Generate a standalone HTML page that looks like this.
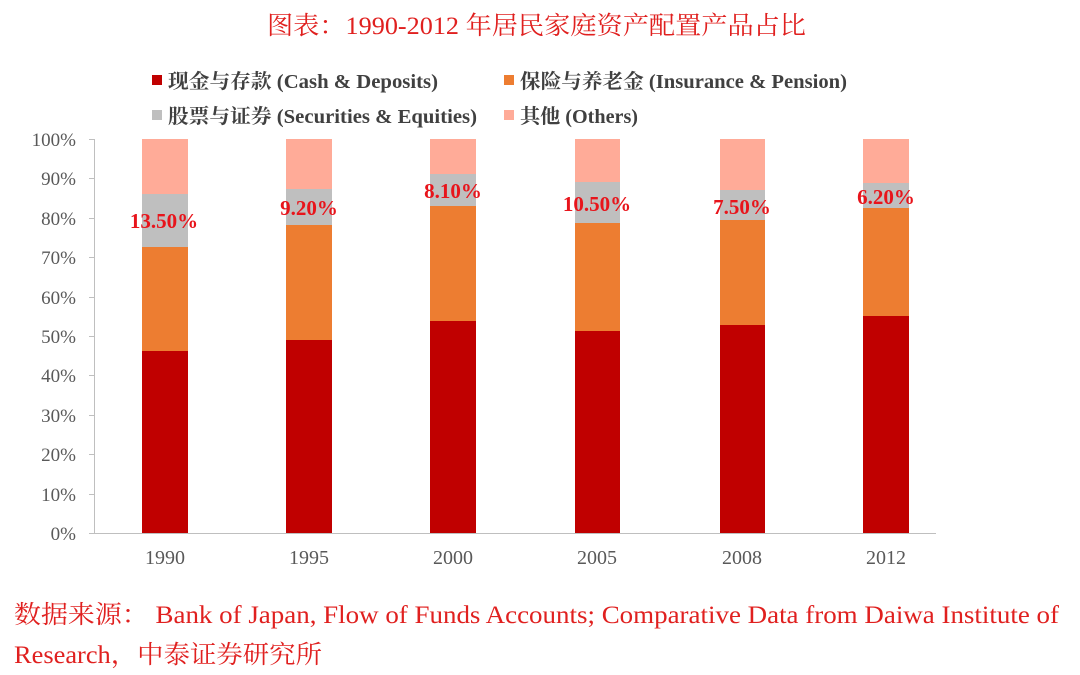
<!DOCTYPE html>
<html><head><meta charset="utf-8"><style>
html,body{margin:0;padding:0;background:#fff;}
svg{display:block;}
</style></head><body>
<svg width="1080" height="675" xmlns="http://www.w3.org/2000/svg" font-family="Liberation Serif, Noto Serif CJK SC, serif">
<text x="267" y="34" font-size="25" fill="#e0201f" textLength="539" lengthAdjust="spacingAndGlyphs">图表：1990-2012 年居民家庭资产配置产品占比</text>
<g font-size="20" font-weight="bold" fill="#404040">
<rect x="152" y="75" width="10" height="10" fill="#c00000"/><text x="168" y="88" textLength="270" lengthAdjust="spacingAndGlyphs">现金与存款 (Cash &amp; Deposits)</text>
<rect x="504" y="75" width="10" height="10" fill="#ed7d31"/><text x="520" y="88" textLength="327" lengthAdjust="spacingAndGlyphs">保险与养老金 (Insurance &amp; Pension)</text>
<rect x="152" y="110" width="10" height="10" fill="#bfbfbf"/><text x="168" y="123" textLength="309" lengthAdjust="spacingAndGlyphs">股票与证券 (Securities &amp; Equities)</text>
<rect x="504" y="110" width="10" height="10" fill="#ffab98"/><text x="520" y="123" textLength="118" lengthAdjust="spacingAndGlyphs">其他 (Others)</text>
</g>
<g stroke="#bfbfbf" stroke-width="1">
<line x1="94.5" y1="139" x2="94.5" y2="533"/>
<line x1="94" y1="533.5" x2="936" y2="533.5"/>
<line x1="89" y1="139.5" x2="94" y2="139.5"/><line x1="89" y1="178.5" x2="94" y2="178.5"/><line x1="89" y1="218.5" x2="94" y2="218.5"/><line x1="89" y1="257.5" x2="94" y2="257.5"/><line x1="89" y1="297.5" x2="94" y2="297.5"/><line x1="89" y1="336.5" x2="94" y2="336.5"/><line x1="89" y1="375.5" x2="94" y2="375.5"/><line x1="89" y1="415.5" x2="94" y2="415.5"/><line x1="89" y1="454.5" x2="94" y2="454.5"/><line x1="89" y1="494.5" x2="94" y2="494.5"/><line x1="89" y1="533.5" x2="94" y2="533.5"/>
</g>
<g font-size="19" fill="#595959" text-anchor="end">
<text x="76" y="146">100%</text><text x="76" y="185">90%</text><text x="76" y="225">80%</text><text x="76" y="264">70%</text><text x="76" y="304">60%</text><text x="76" y="343">50%</text><text x="76" y="382">40%</text><text x="76" y="422">30%</text><text x="76" y="461">20%</text><text x="76" y="501">10%</text><text x="76" y="540">0%</text>
</g>
<g>
<rect x="142" y="139" width="46" height="55" fill="#ffab98"/><rect x="142" y="194" width="46" height="53" fill="#bfbfbf"/><rect x="142" y="247" width="46" height="104" fill="#ed7d31"/><rect x="142" y="351" width="46" height="182" fill="#c00000"/>
<rect x="286" y="139" width="46" height="50" fill="#ffab98"/><rect x="286" y="189" width="46" height="36" fill="#bfbfbf"/><rect x="286" y="225" width="46" height="115" fill="#ed7d31"/><rect x="286" y="340" width="46" height="193" fill="#c00000"/>
<rect x="430" y="139" width="46" height="35" fill="#ffab98"/><rect x="430" y="174" width="46" height="32" fill="#bfbfbf"/><rect x="430" y="206" width="46" height="115" fill="#ed7d31"/><rect x="430" y="321" width="46" height="212" fill="#c00000"/>
<rect x="575" y="139" width="45" height="43" fill="#ffab98"/><rect x="575" y="182" width="45" height="41" fill="#bfbfbf"/><rect x="575" y="223" width="45" height="108" fill="#ed7d31"/><rect x="575" y="331" width="45" height="202" fill="#c00000"/>
<rect x="720" y="139" width="45" height="51" fill="#ffab98"/><rect x="720" y="190" width="45" height="30" fill="#bfbfbf"/><rect x="720" y="220" width="45" height="105" fill="#ed7d31"/><rect x="720" y="325" width="45" height="208" fill="#c00000"/>
<rect x="863" y="139" width="46" height="44" fill="#ffab98"/><rect x="863" y="183" width="46" height="25" fill="#bfbfbf"/><rect x="863" y="208" width="46" height="108" fill="#ed7d31"/><rect x="863" y="316" width="46" height="217" fill="#c00000"/>
</g>
<g font-size="21" font-weight="bold" fill="#e8141b" text-anchor="middle">
<text x="164" y="228">13.50%</text><text x="309" y="215">9.20%</text><text x="453" y="198">8.10%</text><text x="597" y="211">10.50%</text><text x="742" y="214">7.50%</text><text x="886" y="204">6.20%</text>
</g>
<g font-size="20" fill="#595959" text-anchor="middle">
<text x="165" y="564">1990</text><text x="309" y="564">1995</text><text x="453" y="564">2000</text><text x="597" y="564">2005</text><text x="742" y="564">2008</text><text x="886" y="564">2012</text>
</g>
<g font-size="25" fill="#e0201f">
<text x="14" y="623" textLength="1045" lengthAdjust="spacingAndGlyphs">数据来源： Bank of Japan, Flow of Funds Accounts; Comparative Data from Daiwa Institute of</text>
<text x="14" y="663" textLength="308" lengthAdjust="spacingAndGlyphs">Research，中泰证券研究所</text>
</g>
</svg>
</body></html>
